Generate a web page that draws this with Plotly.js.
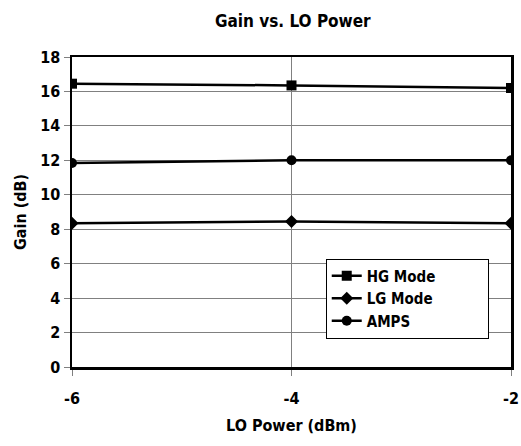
<!DOCTYPE html>
<html><head><meta charset="utf-8">
<script src="https://cdn.plot.ly/plotly-3.0.1.min.js"></script>
<style>body{margin:0;background:#fff}#c{width:521px;height:446px}</style>
</head><body><div id="c"></div>
<script>
const loPower = [-6, -4, -2];
const hgMode = [16.45, 16.35, 16.2];
const lgMode = [8.35, 8.45, 8.35];
const amps = [11.85, 12.0, 12.0];
const xTicks = [-6, -4, -2];
const yTicks = [0, 2, 4, 6, 8, 10, 12, 14, 16, 18];
const seriesNames = ['HG Mode', 'LG Mode', 'AMPS'];

const F = '"Liberation Sans Narrow", "Arial Narrow", "DejaVu Sans Condensed", sans-serif';
const line = {color: '#000', width: 2.5};
const pad = '\u00a0'.repeat(10);
const traces = [
  {x: loPower, y: hgMode, name: seriesNames[0] + pad, mode: 'lines+markers', line: line, marker: {symbol: 'square', size: 10, color: '#000'}},
  {x: loPower, y: lgMode, name: seriesNames[1] + pad, mode: 'lines+markers', line: line, marker: {symbol: 'diamond', size: 10, color: '#000'}},
  {x: loPower, y: amps, name: seriesNames[2] + pad, mode: 'lines+markers', line: line, marker: {symbol: 'circle', size: 10, color: '#000'}}
];
const layout = {
  width: 521, height: 446,
  margin: {l: 72, r: 10, t: 57, b: 79},
  paper_bgcolor: '#fff', plot_bgcolor: '#fff',
  font: {family: F, color: '#000', size: 15, weight: 'bold'},
  title: {text: '<b>Gain vs. LO Power</b>', font: {family: F, size: 17, color: '#000'}, x: 0.562, xanchor: 'center', y: 0.952, yanchor: 'middle'},
  xaxis: {
    range: [-6, -2], tickvals: xTicks, ticktext: xTicks.map(String),
    showgrid: true, gridcolor: '#808080', gridwidth: 1,
    zeroline: false, showline: true, mirror: true, linecolor: '#000', linewidth: 2.5,
    ticks: 'outside', ticklen: 6, tickcolor: '#808080', ticklabelstandoff: 9,
    tickfont: {family: F, size: 16, color: '#000', weight: 'bold'},
    title: {text: '<b>LO Power (dBm)</b>', font: {family: F, size: 16, color: '#000'}, standoff: 13}
  },
  yaxis: {
    range: [0, 18], tickvals: yTicks, ticktext: yTicks.map(String),
    showgrid: true, gridcolor: '#808080', gridwidth: 1,
    zeroline: false, showline: true, mirror: true, linecolor: '#000', linewidth: 2.5,
    ticks: 'outside', ticklen: 6, tickcolor: '#808080',
    tickfont: {family: F, size: 16, color: '#000', weight: 'bold'},
    title: {text: '<b>Gain (dB)</b>', font: {family: F, size: 16, color: '#000'}, standoff: 10}
  },
  showlegend: true,
  legend: {x: 0.578, y: 0.35, xanchor: 'left', yanchor: 'top', bgcolor: '#fff', bordercolor: '#000', borderwidth: 1,
    font: {family: F, size: 15, color: '#000', weight: 'bold'}, itemwidth: 30, tracegroupgap: 0}
};
Plotly.newPlot('c', traces, layout, {displayModeBar: false, staticPlot: true});
</script></body></html>
